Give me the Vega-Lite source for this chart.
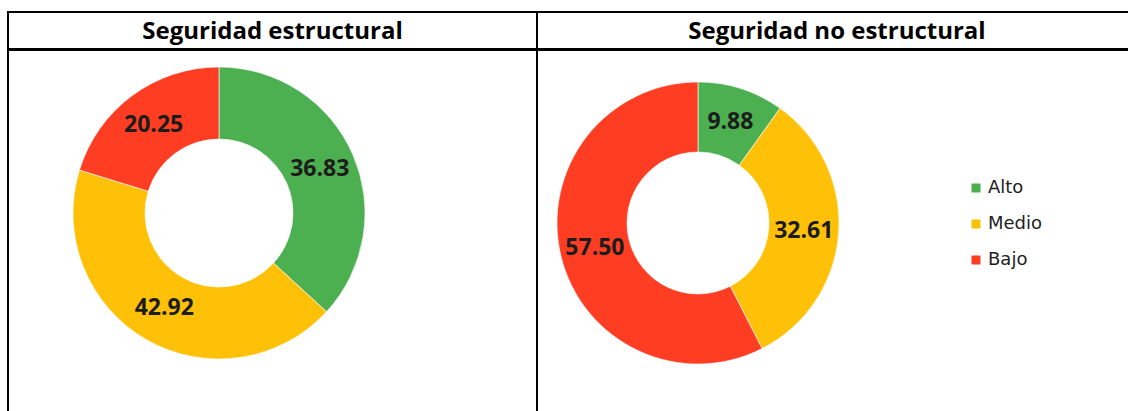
{
  "$schema": "https://vega.github.io/schema/vega-lite/v6.json",
  "padding": {"left": 7, "top": 11, "right": 0, "bottom": 0},
  "background": "white",
  "spacing": -1,
  "config": {
    "view": {"stroke": "black", "strokeWidth": 2},
    "concat": {"spacing": 0}
  },
  "datasets": {
    "estructural": [
      {"nivel": "Alto", "valor": 36.83, "orden": 1},
      {"nivel": "Medio", "valor": 42.92, "orden": 2},
      {"nivel": "Bajo", "valor": 20.25, "orden": 3}
    ],
    "noestructural": [
      {"nivel": "Alto", "valor": 9.88, "orden": 1},
      {"nivel": "Medio", "valor": 32.61, "orden": 2},
      {"nivel": "Bajo", "valor": 57.50, "orden": 3}
    ],
    "titulos": [
      {"panel": "izq", "titulo": "Seguridad estructural"},
      {"panel": "der", "titulo": "Seguridad no estructural"}
    ]
  },
  "vconcat": [
    {
      "bounds": "flush",
      "hconcat": [
        {
          "width": 529, "height": 37,
          "view": {"stroke": "black", "strokeWidth": 2},
          "data": {"name": "titulos"},
          "transform": [{"filter": "datum.panel == 'izq'"}],
          "mark": {"type": "text", "font": "Open Sans", "fontWeight": "bold", "fontSize": 24, "color": "black", "baseline": "middle", "align": "center", "dy": 1},
          "encoding": {"text": {"field": "titulo"}}
        },
        {
          "width": 600, "height": 37,
          "view": {"stroke": "black", "strokeWidth": 2},
          "data": {"name": "titulos"},
          "transform": [{"filter": "datum.panel == 'der'"}],
          "mark": {"type": "text", "font": "Open Sans", "fontWeight": "bold", "fontSize": 24, "color": "black", "baseline": "middle", "align": "center", "dy": 1},
          "encoding": {"text": {"field": "titulo"}}
        }
      ]
    },
    {
      "bounds": "flush",
      "resolve": {"scale": {"color": "independent"}, "legend": {"color": "independent"}},
      "hconcat": [
        {
          "width": 529, "height": 380,
          "view": {"stroke": "black", "strokeWidth": 2},
          "data": {"name": "estructural"},
          "encoding": {
            "theta": {"field": "valor", "type": "quantitative", "stack": true},
            "order": {"field": "orden", "type": "quantitative"},
            "color": {
              "field": "nivel", "type": "nominal", "legend": null,
              "scale": {"domain": ["Alto", "Medio", "Bajo"], "range": ["#4CAF50", "#FFC107", "#FF3D23"]}
            }
          },
          "layer": [
            {"mark": {"type": "arc", "x": 211, "y": 163, "outerRadius": 146, "innerRadius": 74, "stroke": "#ffffff", "strokeWidth": 0.6}},
            {
              "mark": {"type": "text", "x": 211, "y": 163, "radius": 110, "font": "Open Sans", "fontWeight": "bold", "fontSize": 23, "fill": "#1c1c1c", "baseline": "middle", "align": "center"},
              "encoding": {"text": {"field": "valor", "type": "quantitative", "format": ".2f"}, "color": {"value": "#1c1c1c"}}
            }
          ]
        },
        {
          "width": 600, "height": 380,
          "view": {"stroke": "black", "strokeWidth": 2},
          "data": {"name": "noestructural"},
          "encoding": {
            "theta": {"field": "valor", "type": "quantitative", "stack": true},
            "order": {"field": "orden", "type": "quantitative"},
            "color": {
              "field": "nivel", "type": "nominal",
              "scale": {"domain": ["Alto", "Medio", "Bajo"], "range": ["#4CAF50", "#FFC107", "#FF3D23"]},
              "legend": {
                "title": null, "orient": "none", "legendX": 430, "legendY": 129,
                "symbolType": "square", "symbolSize": 81, "symbolStrokeWidth": 0,
                "labelFont": "DejaVu Sans", "labelFontSize": 18, "labelColor": "#222222",
                "labelOffset": 3, "rowPadding": 18
              }
            }
          },
          "layer": [
            {"mark": {"type": "arc", "x": 161, "y": 173, "outerRadius": 141, "innerRadius": 71, "stroke": "#ffffff", "strokeWidth": 0.6}},
            {
              "mark": {"type": "text", "x": 161, "y": 173, "radius": 106, "font": "Open Sans", "fontWeight": "bold", "fontSize": 23, "fill": "#1c1c1c", "baseline": "middle", "align": "center"},
              "encoding": {"text": {"field": "valor", "type": "quantitative", "format": ".2f"}, "color": {"value": "#1c1c1c"}}
            }
          ]
        }
      ]
    }
  ]
}
